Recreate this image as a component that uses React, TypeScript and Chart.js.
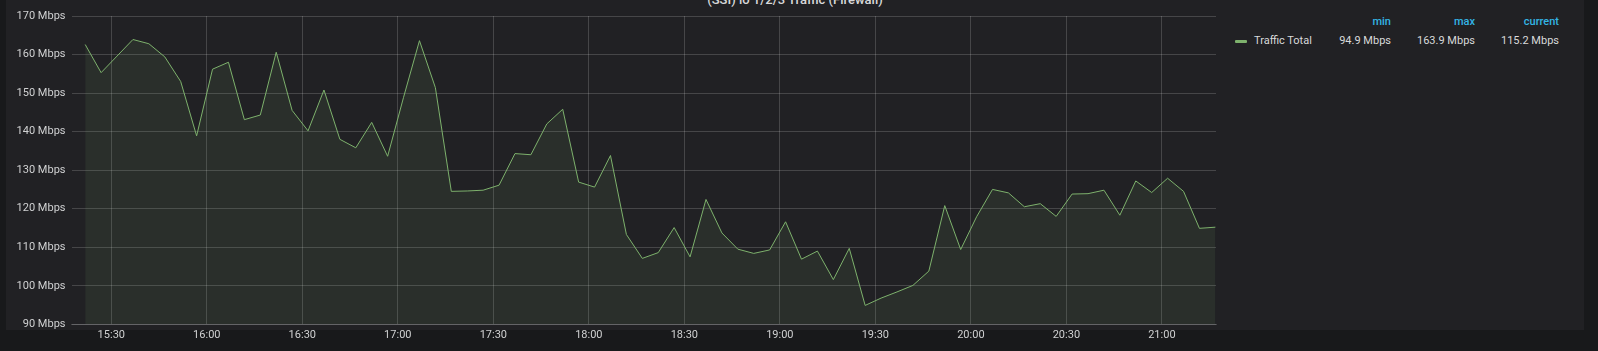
import React, { useEffect, useRef } from "react";
import { Chart, registerables } from "chart.js";

Chart.register(...registerables);

const TITLE = "(SSI) lo 1/2/3 Traffic (Firewall)";
const SERIES_NAME = "Traffic Total";

// minutes since midnight of first sample, and sampling step in minutes
const START_MIN = 921.8;
const STEP_MIN = 5;

const trafficMbps: number[] = [
  162.6, 155.3, 159.6, 163.9, 162.8, 159.4, 153.0, 138.9, 156.2, 158.0,
  143.1, 144.3, 160.6, 145.5, 140.2, 150.8, 138.0, 135.8, 142.4, 133.6,
  148.9, 163.6, 151.4, 124.5, 124.6, 124.8, 126.1, 134.3, 134.0, 142.0,
  145.8, 126.9, 125.6, 133.8, 113.3, 107.1, 108.6, 115.1, 107.5, 122.4,
  113.7, 109.5, 108.4, 109.3, 116.6, 106.9, 109.0, 101.6, 109.7, 94.9,
  96.8, 98.4, 100.1, 103.8, 120.8, 109.4, 117.9, 125.0, 124.1, 120.5,
  121.3, 118.0, 123.8, 123.9, 124.8, 118.3, 127.2, 124.2, 127.9, 124.5,
  114.9, 115.2,
];

const xTickMinutes: number[] = [930, 960, 990, 1020, 1050, 1080, 1110, 1140, 1170, 1200, 1230, 1260];
const X_MIN = 917.5;
const X_MAX = 1277;

const Y_MIN = 90;
const Y_MAX = 170;
const Y_STEP = 10;

const legendHeaders: string[] = ["min", "max", "current"];
const legendValues: string[] = ["94.9 Mbps", "163.9 Mbps", "115.2 Mbps"];
const legendRights: number[] = [1391, 1475, 1559];

const GRID = "rgba(255,255,255,0.17)";
const TEXT = "#d0d1d2";
const LINE = "#7eb26d";

function fmtTime(m: number): string {
  const h = Math.floor(m / 60);
  const mm = Math.round(m - h * 60);
  return `${h}:${mm < 10 ? "0" + mm : mm}`;
}

export default function App() {
  const ref = useRef<HTMLCanvasElement | null>(null);

  useEffect(() => {
    if (!ref.current) return;
    const points = trafficMbps.map((v, i) => ({ x: START_MIN + i * STEP_MIN, y: v }));
    const chart = new Chart(ref.current, {
      type: "line",
      data: {
        datasets: [
          {
            label: SERIES_NAME,
            data: points,
            borderColor: LINE,
            borderWidth: 1,
            backgroundColor: "rgba(126,178,109,0.1)",
            fill: "start",
            pointRadius: 0,
            tension: 0,
          },
        ],
      },
      options: {
        animation: false,
        responsive: false,
        devicePixelRatio: 1,
        layout: { padding: { left: 0, right: 14, top: 16, bottom: 0 } },
        plugins: { legend: { display: false }, tooltip: { enabled: false }, title: { display: false } },
        scales: {
          x: {
            type: "linear",
            min: X_MIN,
            max: X_MAX,
            afterBuildTicks: (s: any) => {
              s.ticks = xTickMinutes.map((v) => ({ value: v }));
            },
            afterFit: (s: any) => {
              s.height = 26.7;
            },
            ticks: {
              autoSkip: false,
              maxRotation: 0,
              padding: 4,
              color: TEXT,
              font: { family: "Roboto", size: 11 },
              callback: (v: any) => fmtTime(Number(v)),
            },
            grid: { color: GRID, drawTicks: false },
            border: { display: true, color: GRID },
          },
          y: {
            min: Y_MIN,
            max: Y_MAX,
            afterFit: (s: any) => {
              s.width = 71.5;
            },
            ticks: {
              stepSize: Y_STEP,
              padding: 6,
              color: TEXT,
              font: { family: "Roboto", size: 11 },
              callback: (v: any) => `${v} Mbps`,
            },
            grid: { color: GRID, drawTicks: false },
            border: { display: false },
          },
        },
      },
    });
    return () => chart.destroy();
  }, []);

  return (
    <div
      style={{
        position: "fixed",
        left: 0,
        top: 0,
        width: 1598,
        height: 351,
        background: "#18191b",
        overflow: "hidden",
        fontFamily: "Roboto, sans-serif",
      }}
    >
      <div
        style={{
          position: "absolute",
          left: 6,
          top: -20,
          width: 1578,
          height: 350,
          background: "#212124",
        }}
      />
      <div
        style={{
          position: "absolute",
          left: 6,
          width: 1578,
          top: -8,
          lineHeight: "16px",
          fontSize: 13,
          fontWeight: 500,
          color: "#d8d9da",
          textAlign: "center",
          whiteSpace: "nowrap",
        }}
      >
        {TITLE}
      </div>
      <canvas
        ref={ref}
        width={1230}
        height={351}
        style={{ position: "absolute", left: 0, top: 0, width: 1230, height: 351 }}
      />
      {legendHeaders.map((h, i) => (
        <div
          key={h}
          style={{
            position: "absolute",
            right: 1598 - legendRights[i],
            top: 14,
            lineHeight: "15px",
            fontSize: 11,
            fontWeight: 500,
            color: "#33b5e5",
            whiteSpace: "nowrap",
          }}
        >
          {h}
        </div>
      ))}
      <div
        style={{
          position: "absolute",
          left: 1235,
          top: 39.5,
          width: 12,
          height: 3,
          borderRadius: 1,
          background: LINE,
        }}
      />
      <div
        style={{
          position: "absolute",
          left: 1254,
          top: 33,
          lineHeight: "15px",
          fontSize: 11,
          color: "#d8d9da",
          whiteSpace: "nowrap",
        }}
      >
        {SERIES_NAME}
      </div>
      {legendValues.map((v, i) => (
        <div
          key={v}
          style={{
            position: "absolute",
            right: 1598 - legendRights[i],
            top: 33,
            lineHeight: "15px",
            fontSize: 11,
            color: "#d8d9da",
            whiteSpace: "nowrap",
          }}
        >
          {v}
        </div>
      ))}
    </div>
  );
}
